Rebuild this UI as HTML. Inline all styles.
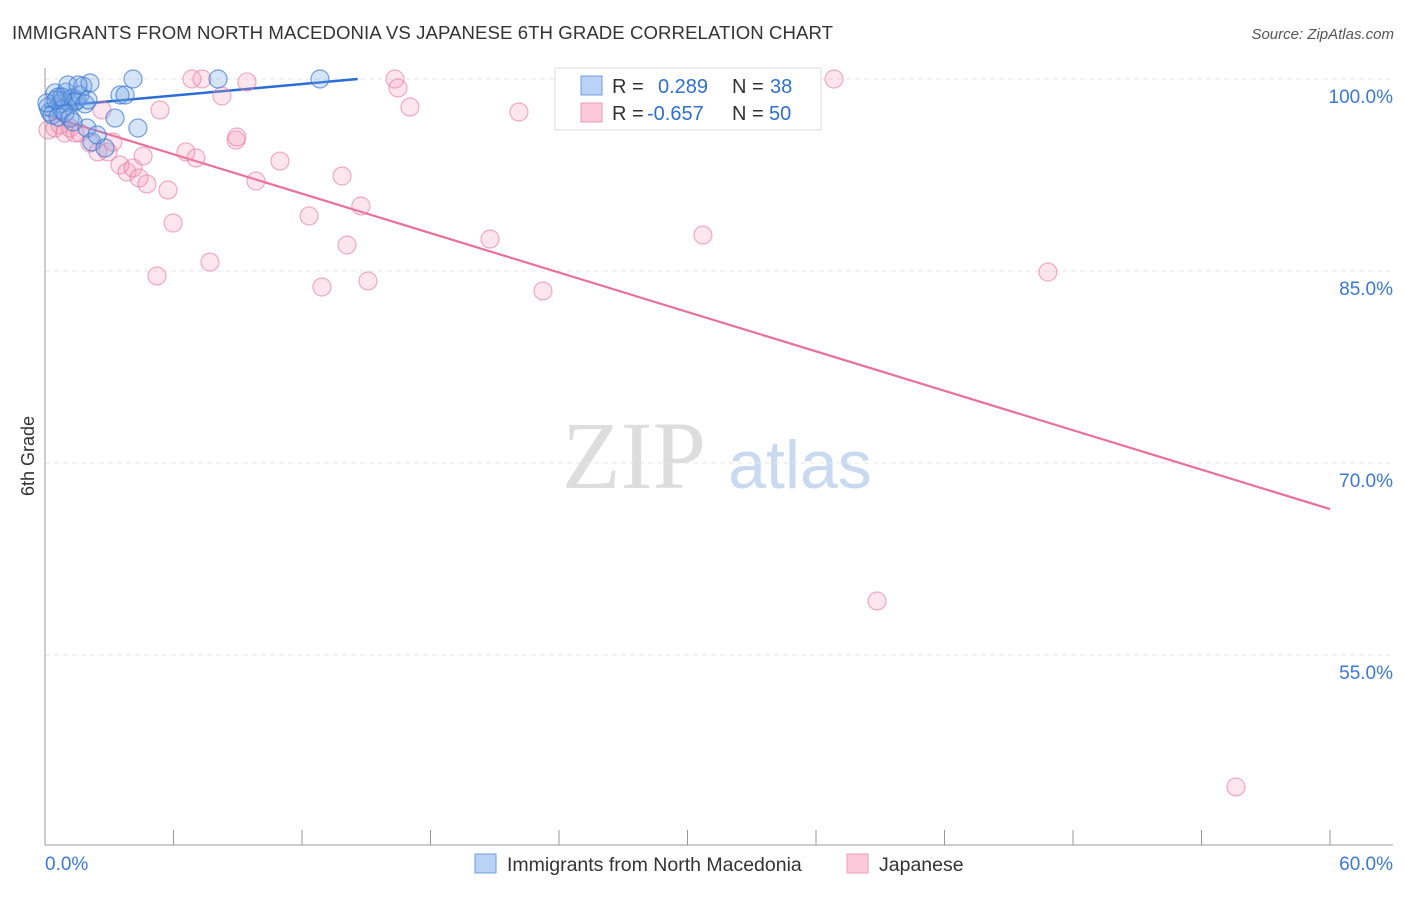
<!DOCTYPE html>
<html><head><meta charset="utf-8"><style>
body{margin:0;background:#fff;font-family:"Liberation Sans",sans-serif;}
svg text{font-family:"Liberation Sans",sans-serif;}
</style></head><body>
<svg id="chart" width="1406" height="892" xmlns="http://www.w3.org/2000/svg">
<text x="12" y="39" font-size="18.6" fill="#333" textLength="821">IMMIGRANTS FROM NORTH MACEDONIA VS JAPANESE 6TH GRADE CORRELATION CHART</text>
<text x="1394" y="39" font-size="15" fill="#555" font-style="italic" text-anchor="end">Source: ZipAtlas.com</text>
<text x="634" y="488" font-size="96" fill="#ddd" text-anchor="middle" style="font-family:'Liberation Serif',serif">ZIP</text>
<text x="800" y="488" font-size="68" fill="#c8d9f0" text-anchor="middle">atlas</text>
<text transform="translate(34,456) rotate(-90)" font-size="18" fill="#333" text-anchor="middle">6th Grade</text>
<g id="grid"></g><g id="axes"></g><g id="trend"></g><g id="pts"></g>
<g>
<rect x="555" y="68" width="266" height="62" fill="#fff" stroke="#ddd"/>
<rect x="581" y="76" width="21" height="19" fill="#b9d2f5" stroke="#6f9ee0"/>
<rect x="581" y="103" width="21" height="19" fill="#fbc9d9" stroke="#ee9ab6"/>
<text x="612" y="93" font-size="20" fill="#333">R =</text>
<text x="658" y="93" font-size="20" fill="#2f6fd0">0.289</text>
<text x="732" y="93" font-size="20" fill="#333">N =</text>
<text x="770" y="93" font-size="20" fill="#2f6fd0">38</text>
<text x="612" y="120" font-size="20" fill="#333">R =</text>
<text x="647" y="120" font-size="20" fill="#2f6fd0">-0.657</text>
<text x="732" y="120" font-size="20" fill="#333">N =</text>
<text x="769" y="120" font-size="20" fill="#2f6fd0">50</text>
</g>
<g>
<rect x="475" y="854" width="21" height="19" fill="#b9d2f5" stroke="#6f9ee0"/>
<text x="507" y="871" font-size="19.5" fill="#333">Immigrants from North Macedonia</text>
<rect x="847" y="854" width="21" height="19" fill="#fbc9d9" stroke="#ee9ab6"/>
<text x="879" y="871" font-size="19.5" fill="#333">Japanese</text>
</g>
</svg>
<script>
const yTicks=[100,85,70,55];
const yTickLabels=["100.0%","85.0%","70.0%","55.0%"];
const xTickLabels=["0.0%","60.0%"];
const blueX=[.14,.23,.47,.61,.70,.84,.98,1.07,1.17,1.26,1.40,1.49,1.63,1.77,1.87,2.01,2.10,1.96,2.19,2.43,2.80,3.27,3.50,3.74,4.11,4.34,8.08,12.84,.33,.61,.79,.93,1.17,1.31,.09,.51,.79,1.54];
const blueY=[97.81,97.42,98.91,98.59,98.05,98.36,98.98,99.53,98.13,98.52,98.20,98.36,98.75,99.45,98.05,98.36,99.69,96.17,95.08,95.63,94.61,96.95,98.75,98.75,100,96.17,100,100,97.19,97.03,97.58,97.34,96.95,96.64,98.13,98.36,98.59,99.53];
const pinkX=[.14,.47,.70,.93,1.17,1.40,1.63,2.10,2.47,2.66,2.94,3.17,3.50,3.83,4.11,4.39,4.58,4.76,5.37,5.74,5.98,5.23,6.58,6.86,7.05,7.33,7.70,8.26,8.92,8.96,9.43,9.85,10.97,12.33,12.93,13.87,14.10,14.75,15.08,16.34,16.48,17.04,20.78,22.13,23.25,30.72,36.84,38.85,46.83,55.61];
const pinkY=[96.02,96.17,96.41,95.78,96.17,95.78,95.78,95.00,94.30,97.58,94.30,95.08,93.28,92.73,93.05,92.27,93.98,91.80,97.58,91.33,88.75,84.61,94.30,100,93.83,100,85.70,98.67,95.23,95.47,99.77,92.03,93.59,89.30,83.75,92.42,87.03,90.08,84.22,100,99.30,97.81,87.50,97.42,83.44,87.81,100,59.22,84.92,44.69];
const blueTrend=[[0,97.8],[14.6,100]];
const pinkTrend=[[0,97.2],[60,66.4]];
const X=v=>45+v/60*1285, Y=v=>79+(100-v)*12.8;
const NS="http://www.w3.org/2000/svg";
function mk(tag,attrs,parent){const e=document.createElementNS(NS,tag);for(const k in attrs)e.setAttribute(k,attrs[k]);document.getElementById(parent).appendChild(e);return e;}
yTicks.forEach((t,i)=>{
 const l=mk('line',{x1:45,x2:1393,y1:Y(t),y2:Y(t),stroke:'#e6e6e6','stroke-dasharray':'5,4'},'grid');
 
 
 const tx=mk('text',{x:1393,y:Y(t)+24,'font-size':19,fill:'#3b78d8','text-anchor':'end'},'grid');
 tx.textContent=yTickLabels[i];
 
 
});
let a=mk('line',{x1:45,x2:45,y1:68,y2:845,stroke:'#999'},'axes');


a=mk('line',{x1:45,x2:1393,y1:845,y2:845,stroke:'#999'},'axes');


for(let i=0;i<=10;i++){const v=i*6;const t=mk('line',{x1:X(v),x2:X(v),y1:830,y2:845,stroke:'#999'},'axes');
 
 }
[[0,'start',45],[60,'end',1393]].forEach((d,i)=>{const t=mk('text',{x:d[2],y:870,'font-size':19,fill:'#3b78d8','text-anchor':d[1]},'axes');t.textContent=xTickLabels[i];
 
 });
function dots(xs,ys,fill,stroke,name){xs.forEach((x,i)=>{const c=mk('circle',{cx:X(x),cy:Y(ys[i]),r:9,fill:fill,stroke:stroke,'stroke-width':1.2},'pts');
 
 });}
dots(pinkX,pinkY,'rgba(244,150,180,0.25)','rgba(230,120,160,0.6)','japanese-point');
dots(blueX,blueY,'rgba(120,165,230,0.3)','rgba(60,120,210,0.7)','macedonia-point');
let tl=mk('line',{x1:X(blueTrend[0][0]),y1:Y(blueTrend[0][1]),x2:X(blueTrend[1][0]),y2:Y(blueTrend[1][1]),stroke:'#2a6dd6','stroke-width':2.5},'trend');


tl=mk('line',{x1:X(pinkTrend[0][0]),y1:Y(pinkTrend[0][1]),x2:X(pinkTrend[1][0]),y2:Y(pinkTrend[1][1]),stroke:'#e8709a','stroke-width':2.2},'trend');


</script>
</body></html>
